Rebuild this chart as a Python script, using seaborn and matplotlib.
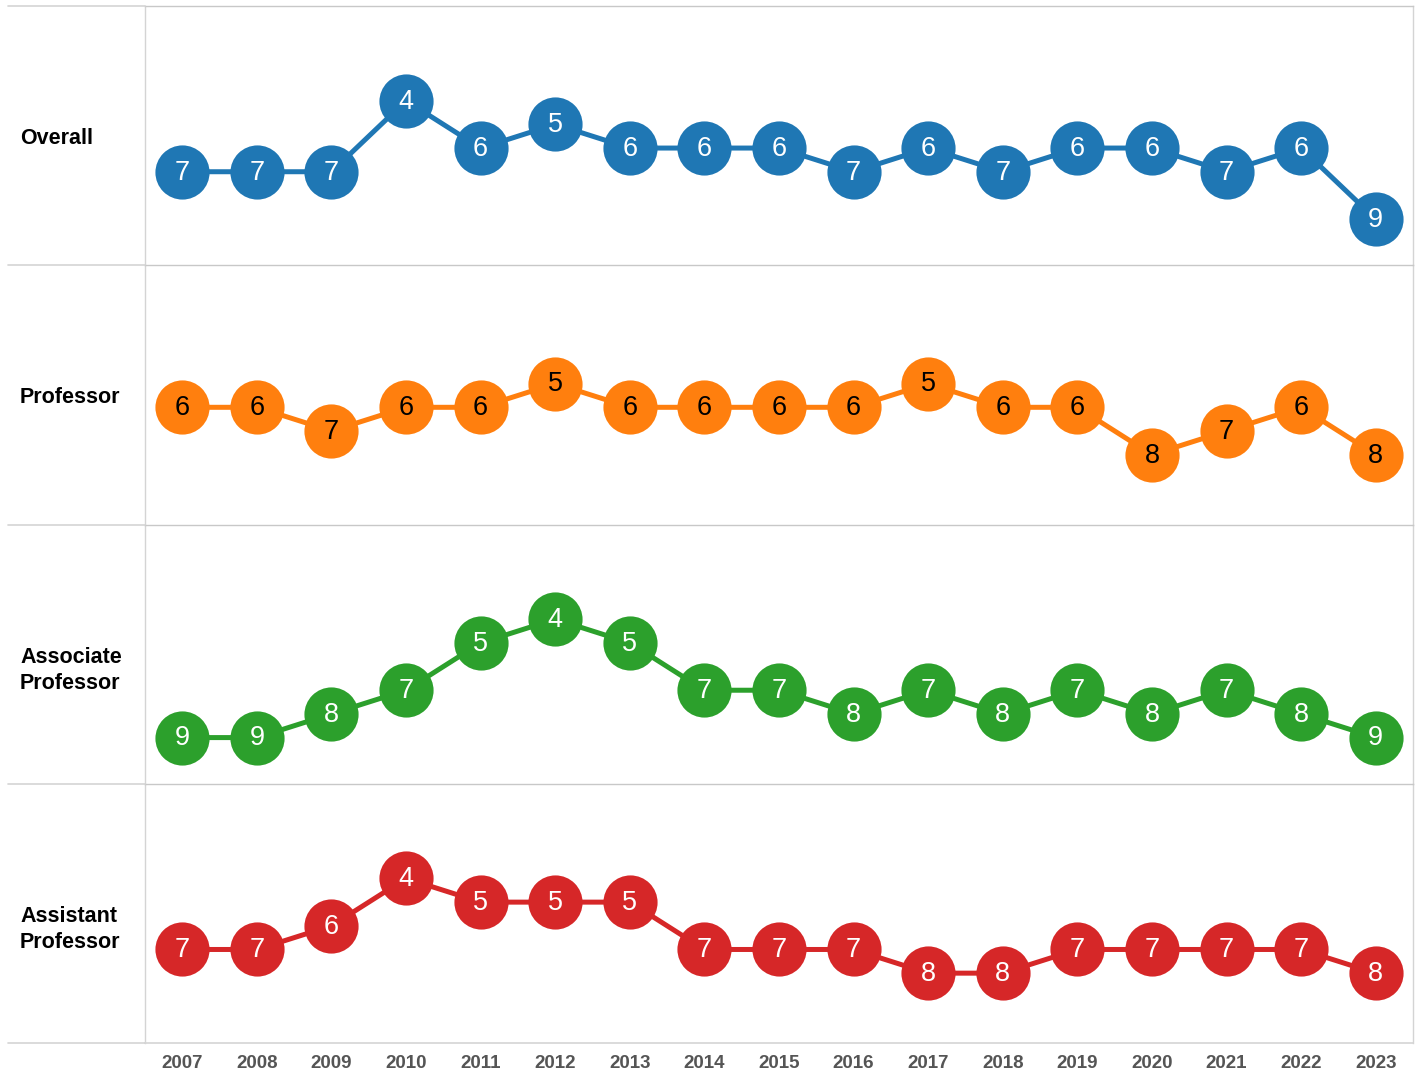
import pandas as pd
import matplotlib.pyplot as plt
import seaborn as sns
from matplotlib.lines import Line2D

years = list(range(2007, 2024))
groups = ['Overall', 'Professor', 'Associate\nProfessor', 'Assistant\nProfessor']
overall = [7, 7, 7, 4, 6, 5, 6, 6, 6, 7, 6, 7, 6, 6, 7, 6, 9]
professor = [6, 6, 7, 6, 6, 5, 6, 6, 6, 6, 5, 6, 6, 8, 7, 6, 8]
associate = [9, 9, 8, 7, 5, 4, 5, 7, 7, 8, 7, 8, 7, 8, 7, 8, 9]
assistant = [7, 7, 6, 4, 5, 5, 5, 7, 7, 7, 8, 8, 7, 7, 7, 7, 8]
ranks = [overall, professor, associate, assistant]
colors = ['#1f77b4', '#ff7f0e', '#2ca02c', '#d62728']
text_colors = ['white', 'black', 'white', 'white']

sns.set_style('white')
plt.rcParams['font.family'] = ['Liberation Sans', 'DejaVu Sans']

W, H = 1418, 1070
fig = plt.figure(figsize=(W / 100, H / 100), dpi=100)

left, right = 145, 1413
top0, bottom_px = 6, 1043
row_h = (bottom_px - top0) / 4
grid_col = '#d4d4d4'

axes = []
for i, (name, vals) in enumerate(zip(groups, ranks)):
    top = top0 + i * row_h
    ax = fig.add_axes([left / W, 1 - (top + row_h) / H, (right - left) / W, row_h / H])
    df = pd.DataFrame({'year': years, 'rank': vals})
    sns.lineplot(data=df, x='year', y='rank', ax=ax, color=colors[i], lw=3.6,
                 marker='o', markersize=39, markeredgewidth=0, zorder=3)
    for x, y in zip(years, vals):
        ax.text(x, y - 0.09, str(y), ha='center', va='center_baseline', fontsize=19.5,
                color=text_colors[i], zorder=4)
    ax.set_xlim(2006.5, 2023.5)
    ax.set_ylim(10.95, 0)
    ax.set_xlabel('')
    ax.set_ylabel('')
    ax.set_yticks([])
    for s in ['left', 'right']:
        ax.spines[s].set_color(grid_col)
        ax.spines[s].set_linewidth(1)
    ax.spines['top'].set_color('#c8c8c8')
    ax.spines['top'].set_linestyle((0, (2, 1)))
    ax.spines['top'].set_linewidth(1)
    ax.spines['bottom'].set_visible(False)
    ax.set_facecolor('white')
    ax.patch.set_alpha(0)

    # row label
    lines = name.split('\n')
    yc = top + row_h / 2 + 3
    for j, ln in enumerate(lines):
        fig.text(20 / W, 1 - (yc + j * 26) / H, ln, ha='left', va='center',
                 fontsize=15.5, fontweight='bold', color='black')
    # separator line in label column
    fig.add_artist(Line2D([8 / W, left / W], [1 - top / H, 1 - top / H],
                          color=grid_col, lw=1.2))
    axes.append(ax)

for ax in axes[:-1]:
    ax.set_xticks([])

last = axes[-1]
last.spines['bottom'].set_visible(True)
last.spines['bottom'].set_color(grid_col)
last.spines['bottom'].set_linewidth(1.2)
last.set_xticks(years)
last.set_xticklabels([str(y) for y in years], fontsize=13.5, fontweight='bold', color='#555555')
last.set_xticks([y - 0.5 for y in years] + [2023.5], minor=True)
last.tick_params(axis='x', which='major', length=0, pad=9)
last.tick_params(axis='x', which='minor', length=8, color=grid_col, width=1)
fig.add_artist(Line2D([8 / W, left / W], [1 - bottom_px / H, 1 - bottom_px / H],
                      color=grid_col, lw=1.2))

fig.savefig('out.png', dpi=100, facecolor='white')
